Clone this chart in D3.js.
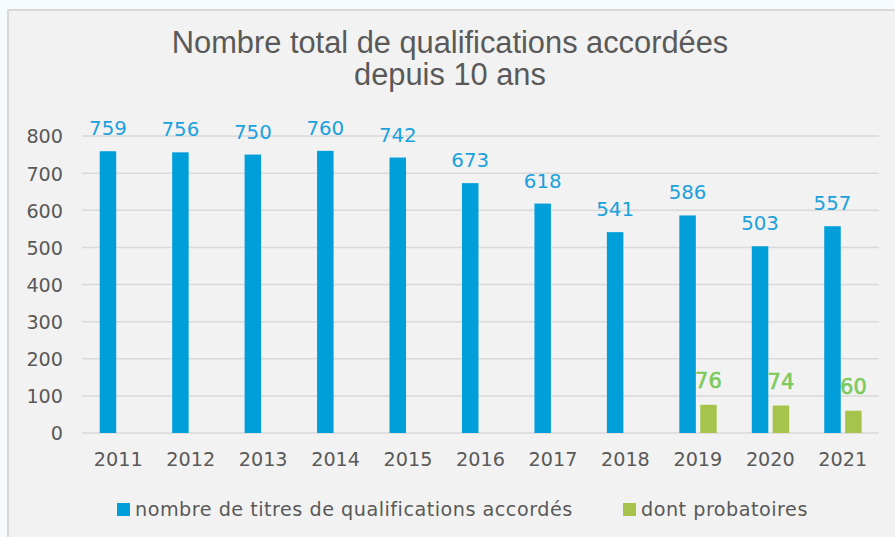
<!DOCTYPE html>
<html><head><meta charset="utf-8">
<script src="https://cdn.jsdelivr.net/npm/d3@7"></script>
<style>
html,body{margin:0;padding:0;background:#f5fbfe;}
svg{display:block;}
</style></head>
<body>
<svg id="chart" width="895" height="537"></svg>
<script>
const years = ["2011","2012","2013","2014","2015","2016","2017","2018","2019","2020","2021"];
const titres = [759,756,750,760,742,673,618,541,586,503,557];
const probatoires = [null,null,null,null,null,null,null,null,76,74,60];
const yTicks = [0,100,200,300,400,500,600,700,800];
const seriesNames = ["nombre de titres de qualifications accordés","dont probatoires"];
const titleLines = ["Nombre total de qualifications accordées","depuis 10 ans"];

const BLUE = "#009fda", BLUE_TXT = "#1ba1dd", GREEN = "#a6c44c", GREEN_TXT = "#7dca5c", GRAY = "#595959";
const FONT = "'DejaVu Sans', Verdana, sans-serif";

const svg = d3.select("#chart");
// panel
svg.append("rect").attr("x", 8).attr("y", 10).attr("width", 900).attr("height", 540)
  .attr("fill", "#f2f2f2").attr("stroke", "#d9d9d9").attr("stroke-width", 2);

// title
const t = svg.append("g");
titleLines.forEach((line, i) => {
  t.append("text").attr("x", 450).attr("y", 53 + i * 32)
    .attr("text-anchor", "middle")
    .attr("font-family", "'Liberation Sans', Arial, sans-serif")
    .attr("font-size", 30.8).attr("fill", GRAY).text(line);
});

const x = d3.scaleBand().domain(years).range([82, 879]);
const sub = d3.scaleBand().domain(["a","b"]).range([17.7, 55.1]).paddingInner(0.21);
const y = d3.scaleLinear().domain([0, 800]).range([433, 136]);

// gridlines
svg.append("g").selectAll("line").data(yTicks).join("line")
  .attr("x1", 82).attr("x2", 879)
  .attr("y1", d => y(d)).attr("y2", d => y(d))
  .attr("stroke", "#d9d9d9").attr("stroke-width", 1.5);

// y axis
const yAxis = svg.append("g").attr("transform", "translate(63,0)")
  .call(d3.axisLeft(y).tickValues(yTicks).tickSize(0).tickPadding(0));
yAxis.select(".domain").remove();
yAxis.selectAll("text").attr("font-family", FONT).attr("font-size", 19.2).attr("fill", GRAY).attr("dy", "0.36em");

// x axis
const xAxis = svg.append("g").attr("transform", "translate(0,433)")
  .call(d3.axisBottom(x).tickSize(0).tickPadding(0));
xAxis.select(".domain").remove();
xAxis.selectAll("text").attr("font-family", FONT).attr("font-size", 19.2).attr("fill", GRAY)
  .attr("dy", 0).attr("y", 33);

const blueData = years.map((yr, i) => ({yr, v: titres[i]}));
const greenData = years.map((yr, i) => ({yr, v: probatoires[i]})).filter(d => d.v != null);

svg.append("g").selectAll("rect").data(blueData).join("rect")
  .attr("x", d => x(d.yr) + sub("a")).attr("width", sub.bandwidth())
  .attr("y", d => y(d.v)).attr("height", d => y(0) - y(d.v)).attr("fill", BLUE);
svg.append("g").selectAll("rect").data(greenData).join("rect")
  .attr("x", d => x(d.yr) + sub("b")).attr("width", sub.bandwidth())
  .attr("y", d => y(d.v)).attr("height", d => y(0) - y(d.v)).attr("fill", GREEN);

svg.append("g").selectAll("text").data(blueData).join("text")
  .attr("x", d => x(d.yr) + sub("a") + sub.bandwidth() / 2).attr("y", d => y(d.v) - 16)
  .attr("text-anchor", "middle").attr("font-family", FONT).attr("font-size", 19.8)
  .attr("fill", BLUE_TXT).text(d => d.v);
svg.append("g").selectAll("text").data(greenData).join("text")
  .attr("x", d => x(d.yr) + sub("b") + sub.bandwidth() / 2).attr("y", d => y(d.v) - 17)
  .attr("text-anchor", "middle").attr("font-family", FONT).attr("font-size", 21)
  .attr("fill", GREEN_TXT).attr("stroke", GREEN_TXT).attr("stroke-width", 0.6).text(d => d.v);

// legend
const legend = [
  {name: seriesNames[0], color: BLUE, x: 117},
  {name: seriesNames[1], color: GREEN, x: 623}
];
const lg = svg.append("g").selectAll("g").data(legend).join("g")
  .attr("transform", d => `translate(${d.x},503)`);
lg.append("rect").attr("width", 13).attr("height", 13).attr("fill", d => d.color);
lg.append("text").attr("x", 18).attr("y", 13).attr("font-family", FONT).attr("font-size", 19.2)
  .attr("letter-spacing", 0.5).attr("fill", GRAY).text(d => d.name);
</script>
</body></html>
